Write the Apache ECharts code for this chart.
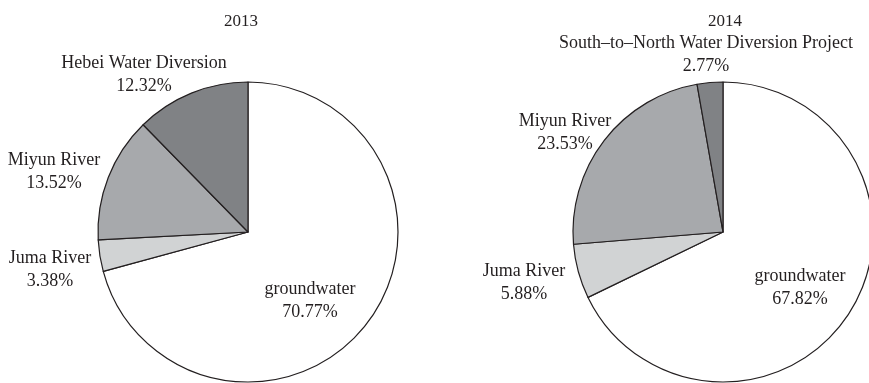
<!DOCTYPE html>
<html>
<head>
<meta charset="utf-8">
<script src="https://cdn.jsdelivr.net/npm/echarts@6/dist/echarts.min.js"></script>
<style>
  html, body { margin: 0; padding: 0; background: #fff; }
  #chart { width: 869px; height: 383px; }
</style>
</head>
<body>
<div id="chart"></div>
<script>
const years = ['2013', '2014'];
const names2013 = ['groundwater', 'Juma River', 'Miyun River', 'Hebei Water Diversion'];
const values2013 = [70.77, 3.38, 13.52, 12.32];
const names2014 = ['groundwater', 'Juma River', 'Miyun River', 'South\u2013to\u2013North Water Diversion Project'];
const values2014 = [67.82, 5.88, 23.53, 2.77];

const sliceColors = ['#ffffff', '#d1d3d4', '#a7a9ac', '#808285'];
// label centres (px), same order as the slices
const labelPos = [
  [[310, 301], [50, 270], [54, 172], [144, 75]],
  [[800, 288], [524, 283], [565, 133], [706, 55]]
];

const font = '"Liberation Serif", "Times New Roman", serif';
const chart = echarts.init(document.getElementById('chart'));

function makePie(names, values, cx) {
  return {
    type: 'pie',
    center: [cx, 232],
    radius: 150,
    startAngle: 90,
    clockwise: true,
    avoidLabelOverlap: false,
    silent: true,
    data: names.map((n, i) => ({
      name: n,
      value: values[i],
      itemStyle: { color: sliceColors[i] }
    })),
    itemStyle: { borderColor: '#231f20', borderWidth: 1.2 },
    label: {
      show: true,
      position: 'outside',
      formatter: '{b}\n{c}%',
      fontFamily: font,
      fontSize: 18,
      lineHeight: 23,
      color: '#231f20',
      align: 'center'
    },
    labelLine: { show: false },
    labelLayout: function (p) {
      const pos = labelPos[p.seriesIndex][p.dataIndex];
      return { x: pos[0], y: pos[1], align: 'center', verticalAlign: 'middle' };
    }
  };
}

chart.setOption({
  animation: false,
  backgroundColor: '#fff',
  title: [
    { text: years[0], left: 236, top: 8, textAlign: 'center',
      textStyle: { fontFamily: font, fontWeight: 'normal', fontSize: 17, color: '#231f20' } },
    { text: years[1], left: 720, top: 8, textAlign: 'center',
      textStyle: { fontFamily: font, fontWeight: 'normal', fontSize: 17, color: '#231f20' } }
  ],
  series: [
    makePie(names2013, values2013, 248),
    makePie(names2014, values2014, 723)
  ]
});
</script>
</body>
</html>
